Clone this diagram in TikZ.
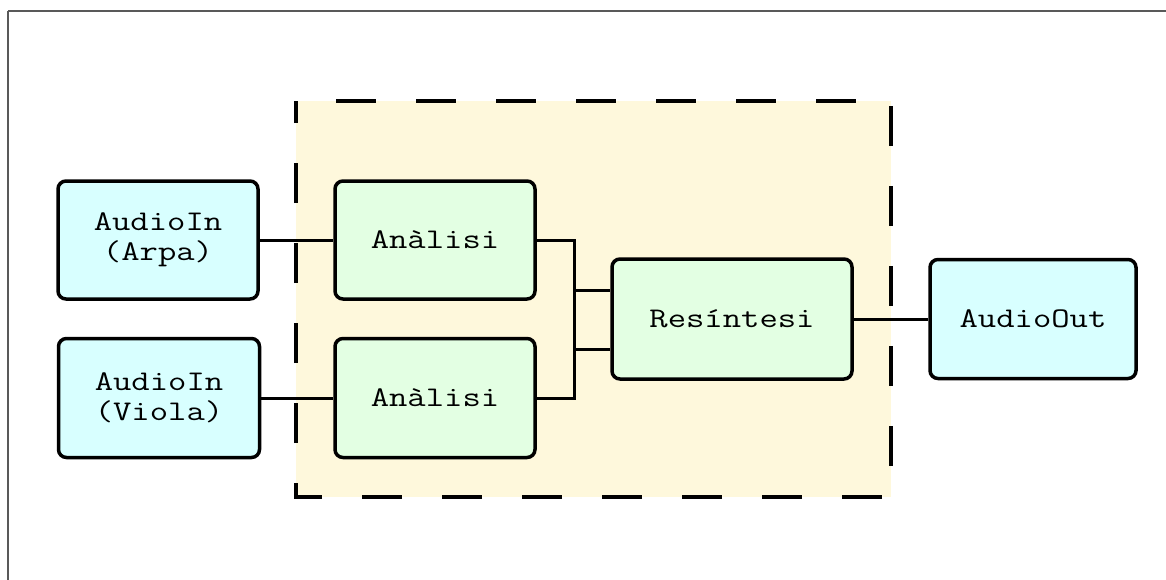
\documentclass[tikz,border=0pt]{standalone}
\usepackage{fontspec}
\setmonofont{Latin Modern Mono}[FakeStretch=1.25]
\begin{document}
\begin{tikzpicture}[x=1pt,y=-1pt,
  block/.style={draw=black, line width=3.5pt, rounded corners=8pt,
    align=center, inner sep=0pt,
    font=\fontsize{28.5}{30}\selectfont\ttfamily},
  iobox/.style={block, fill=ioblue},
  procbox/.style={block, fill=procgreen},
  wire/.style={draw=black, line width=3pt},
  groupframe/.style={fill=groupyellow, draw=black, line width=3.2pt,
    dash pattern=on 40pt off 40pt, dash phase=40pt}
]
\definecolor{ioblue}{RGB}{216,255,255}
\definecolor{procgreen}{RGB}{227,255,227}
\definecolor{groupyellow}{RGB}{254,248,220}

\useasboundingbox (0,0) rectangle (1166,579);
\clip (0,0) rectangle (1166,579);

% outer frame
\draw[draw=black!65, line width=1.2pt] (8,11) -- (1200,11);
\draw[draw=black!65, line width=1.2pt] (8,11) -- (8,620);

% processing group
\coordinate (g1) at (296,101);
\coordinate (g2) at (891,101);
\coordinate (g3) at (891,497);
\coordinate (g4) at (296,497);
\path[groupframe] (g1) -- (g2) -- (g3) -- (g4) -- cycle;

% blocks
\node[iobox, minimum width=200pt, minimum height=118pt] (arpa) at (158,240) {AudioIn\\(Arpa)};
\node[iobox, minimum width=201pt, minimum height=119pt] (viola) at (159,398) {AudioIn\\(Viola)};
\node[procbox, minimum width=200pt, minimum height=118pt] (an1) at (435,240) {Anàlisi};
\node[procbox, minimum width=200pt, minimum height=119pt] (an2) at (435,398) {Anàlisi};
\node[procbox, minimum width=240pt, minimum height=120pt] (res) at (732,319) {Resíntesi};
\node[iobox, minimum width=206pt, minimum height=119pt] (out) at (1033,319) {AudioOut};

% connections
\draw[wire] (arpa.east) -- (an1.west);
\draw[wire] (viola.east) -- (an2.west);
\draw[wire] (an1.east) -- ++(38,0) |- ([yshift=-30pt]res.west);
\draw[wire] (an2.east) -- ++(38,0) |- ([yshift=29pt]res.west);
\draw[wire] (res.east) -- (out.west);
\end{tikzpicture}
\end{document}
